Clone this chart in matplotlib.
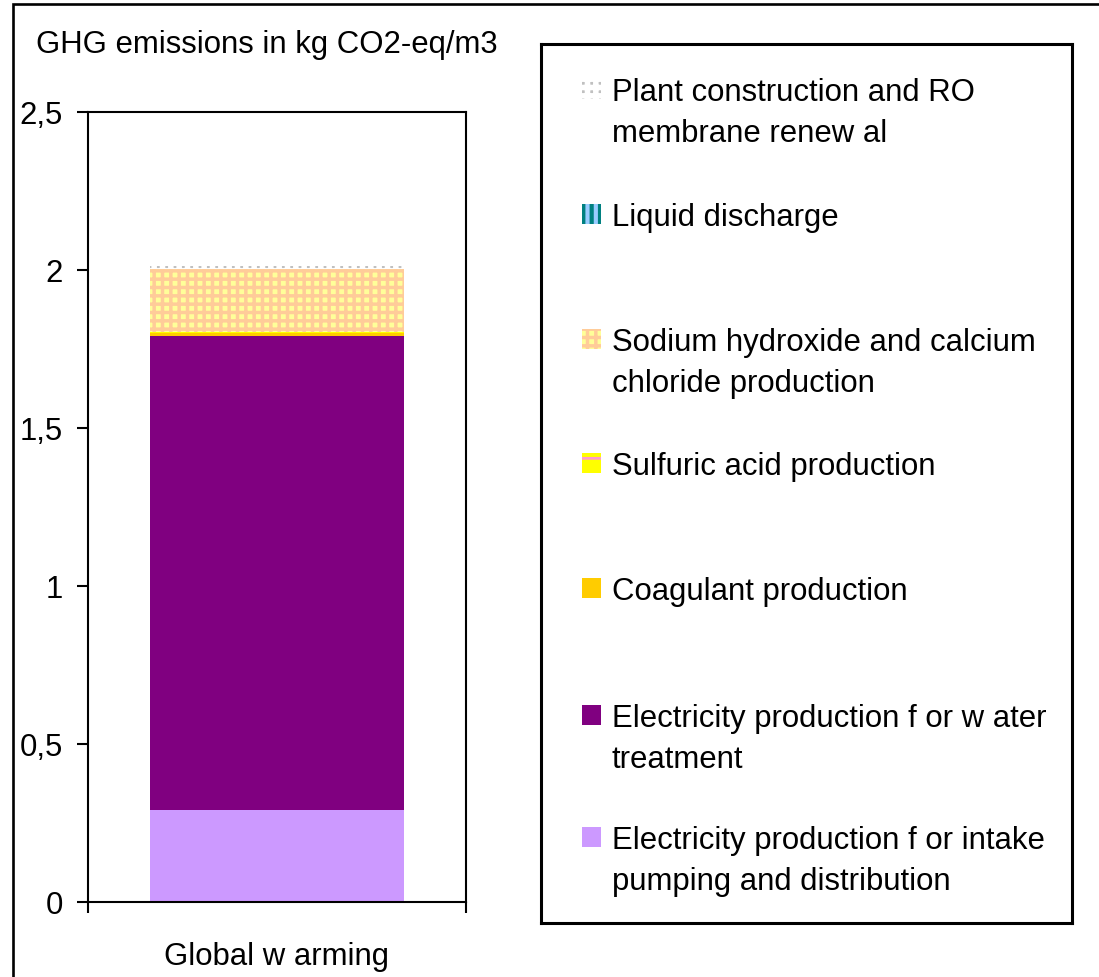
import matplotlib
matplotlib.use("Agg")
import matplotlib.pyplot as plt
from matplotlib.patches import Rectangle
from matplotlib.ticker import FuncFormatter

plt.rcParams["font.family"] = ["Liberation Sans", "DejaVu Sans"]

W, H = 1099, 978
FS = 22.4

category = "Global w arming"
# stacked from the bottom up
sources = [
    "Electricity production f or intake\npumping and distribution",
    "Electricity production f or w ater\ntreatment",
    "Coagulant production",
    "Sulfuric acid production",
    "Sodium hydroxide and calcium\nchloride production",
    "Liquid discharge",
    "Plant construction and RO\nmembrane renew al",
]
emissions = [0.29, 1.50, 0.01, 0.003, 0.20, 0.0, 0.01]
# fill colour, pattern colour, pattern, pattern line width
face_colors = ["#CC99FF", "#800080", "#FFCC00", "#FFFF00", "#FFFF99", "#008080", "#C0C0C0"]
hatch_colors = ["#CC99FF", "#800080", "#FFCC00", "#FF99CC", "#FFCC99", "#99CCFF", "#FFFFFF"]
hatches = [None, None, None, "-", "++", "||", "++"]
hatch_widths = [1, 1, 1, 2, 2.5, 3, 4]
yticks = [0, 0.5, 1, 1.5, 2, 2.5]

fig = plt.figure(figsize=(W / 100, H / 100), dpi=100)


def px_box(x0, y0, x1, y1):
    return [x0 / W, 1 - y1 / H, (x1 - x0) / W, (y1 - y0) / H]


# outer frame (runs past the right and bottom edges)
fig.patches.append(Rectangle((13 / W, -0.2), 1.2, 1.2 - 5 / H, transform=fig.transFigure,
                             fill=False, edgecolor="black", linewidth=1.9))

ax = fig.add_axes(px_box(88, 113, 466, 903))
bottom = 0.0
for val, fc, hc, hatch, hw in zip(emissions, face_colors, hatch_colors, hatches, hatch_widths):
    with plt.rc_context({"hatch.linewidth": hw}):
        ax.bar([0], [val], bottom=bottom, width=0.67, color=fc, edgecolor=hc,
               hatch=hatch, linewidth=0)
    bottom += val

ax.set_xlim(-0.5, 0.5)
ax.set_ylim(0, 2.5)
ax.set_yticks(yticks)
ax.yaxis.set_major_formatter(FuncFormatter(lambda v, p: f"{v:g}".replace(".", ",")))
ax.tick_params(axis="y", labelsize=FS, length=8, width=1.5, pad=10)
ax.set_xticks([0])
ax.set_xticklabels([category])
ax.set_xticks([-0.5, 0.5], minor=True)
ax.tick_params(axis="x", which="major", length=0, labelsize=FS, pad=28)
ax.tick_params(axis="x", which="minor", length=8, width=1.5)
for sp in ax.spines.values():
    sp.set_linewidth(1.5)

fig.text(36 / W, 1 - 45 / H, "GHG emissions in kg CO2-eq/m3", fontsize=FS,
         ha="left", va="center")

# legend panel
lg = fig.add_axes(px_box(541, 45, 1072, 924))
lg.set_xlim(541, 1072)
lg.set_ylim(924, 45)
lg.set_xticks([])
lg.set_yticks([])
for sp in lg.spines.values():
    sp.set_linewidth(2.2)

row_y = [838, 716, 589, 464, 340, 215, 90]
line_gap = 41
for label, fc, hc, hatch, hw, y in zip(sources, face_colors, hatch_colors, hatches,
                                       hatch_widths, row_y):
    with plt.rc_context({"hatch.linewidth": hw}):
        lg.add_patch(Rectangle((582, y - 10), 19, 20, facecolor=fc, edgecolor=hc,
                               hatch=hatch, linewidth=0))
    for i, line in enumerate(label.split("\n")):
        lg.text(612, y + 11 + i * line_gap, line, fontsize=FS, ha="left", va="baseline")

fig.savefig("out.png", dpi=100)
